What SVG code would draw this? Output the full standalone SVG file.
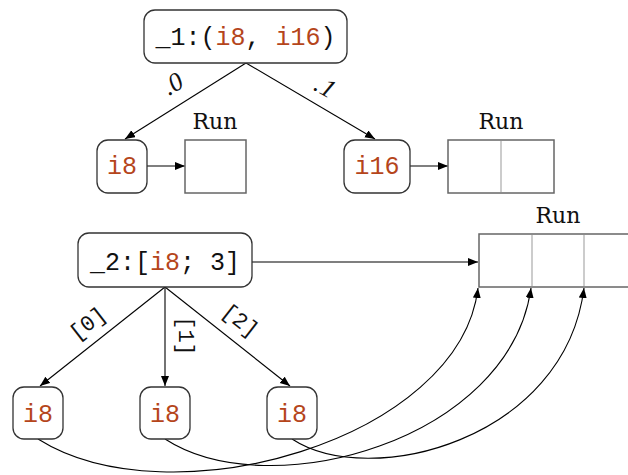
<svg xmlns="http://www.w3.org/2000/svg" width="628" height="475" viewBox="0 0 628 475">
<style>
.node{fill:#fff;stroke:#333;stroke-width:1.3}
.run{fill:#fff;stroke:#666;stroke-width:1.5}
.div{stroke:#aaa;stroke-width:1.2}
.mono{font-family:"Liberation Mono",monospace;font-size:25px;fill:#111}
.ty{fill:#b5451b}
.runlbl{font-family:"DejaVu Serif",serif;font-size:22px;fill:#111;text-anchor:middle}
.lbl{font-family:"Liberation Mono",monospace;font-size:22px;fill:#111;text-anchor:middle}
.fld{font-family:"Liberation Serif",serif;font-style:italic;font-size:26px;fill:#111;text-anchor:middle}
.edge{fill:none;stroke:#000;stroke-width:1.1;marker-end:url(#ah)}
</style>
<defs>
<marker id="ah" markerUnits="userSpaceOnUse" markerWidth="12" markerHeight="10" refX="10" refY="4" orient="auto">
<path d="M0,0 L10,4 L0,8 Z" fill="#000"/>
</marker>
</defs>
<rect width="628" height="475" fill="#fff"/>
<g id="connectors">
<path class="edge" d="M246,63 L125,139"/>
<path class="edge" d="M246,63 L375,139"/>
<path class="edge" d="M147,166 L185,166"/>
<path class="edge" d="M410,166 L448,166"/>
<path class="edge" d="M252,262 L478,262"/>
<path class="edge" d="M165,287 L40,386"/>
<path class="edge" d="M165,287 L165,386"/>
<path class="edge" d="M165,287 L290,386"/>
<path class="edge" d="M38,439 C170,522 460,440 478,288"/>
<path class="edge" d="M165,439 C270,507 510,440 531,288"/>
<path class="edge" d="M292,439 C370,490 565,440 584,288"/>
<text class="fld" transform="translate(177,91) rotate(-31)">.0</text>
<text class="fld" transform="translate(321,94) rotate(30)">.1</text>
<text class="lbl" transform="translate(92,329) rotate(-38)">[0]</text>
<text class="lbl" transform="translate(179,336) rotate(90)">[1]</text>
<text class="lbl" transform="translate(236,326) rotate(38)">[2]</text>
</g>
<g id="n1">
<rect class="node" x="144" y="10" width="203" height="53" rx="11"/>
<text class="mono" x="245.5" y="45" text-anchor="middle">_1:(<tspan class="ty">i8</tspan>, <tspan class="ty">i16</tspan>)</text>
</g>
<g id="n1a">
<rect class="node" x="97" y="140" width="50" height="53" rx="11"/>
<text class="mono ty" x="122" y="174" text-anchor="middle">i8</text>
</g>
<g id="run1">
<text class="runlbl" x="215" y="129">Run</text>
<rect class="run" x="185" y="140" width="61" height="53"/>
</g>
<g id="n1b">
<rect class="node" x="344" y="140" width="66" height="53" rx="11"/>
<text class="mono ty" x="377" y="174" text-anchor="middle">i16</text>
</g>
<g id="run2">
<text class="runlbl" x="501" y="129">Run</text>
<rect class="run" x="448" y="140" width="106" height="53"/>
<line class="div" x1="501" y1="141" x2="501" y2="192"/>
</g>
<g id="n2">
<rect class="node" x="78" y="233" width="174" height="54" rx="11"/>
<text class="mono" x="165" y="270" text-anchor="middle">_2:[<tspan class="ty">i8</tspan>; 3]</text>
</g>
<g id="run3">
<text class="runlbl" x="558" y="223">Run</text>
<rect class="run" x="479" y="234" width="170" height="53"/>
<line class="div" x1="532" y1="235" x2="532" y2="286"/>
<line class="div" x1="584" y1="235" x2="584" y2="286"/>
</g>
<g id="e0">
<rect class="node" x="13" y="387" width="50" height="52" rx="11"/>
<text class="mono ty" x="38" y="422" text-anchor="middle">i8</text>
</g>
<g id="e1">
<rect class="node" x="140" y="387" width="50" height="52" rx="11"/>
<text class="mono ty" x="165" y="422" text-anchor="middle">i8</text>
</g>
<g id="e2">
<rect class="node" x="267" y="387" width="50" height="52" rx="11"/>
<text class="mono ty" x="292" y="422" text-anchor="middle">i8</text>
</g>
</svg>
